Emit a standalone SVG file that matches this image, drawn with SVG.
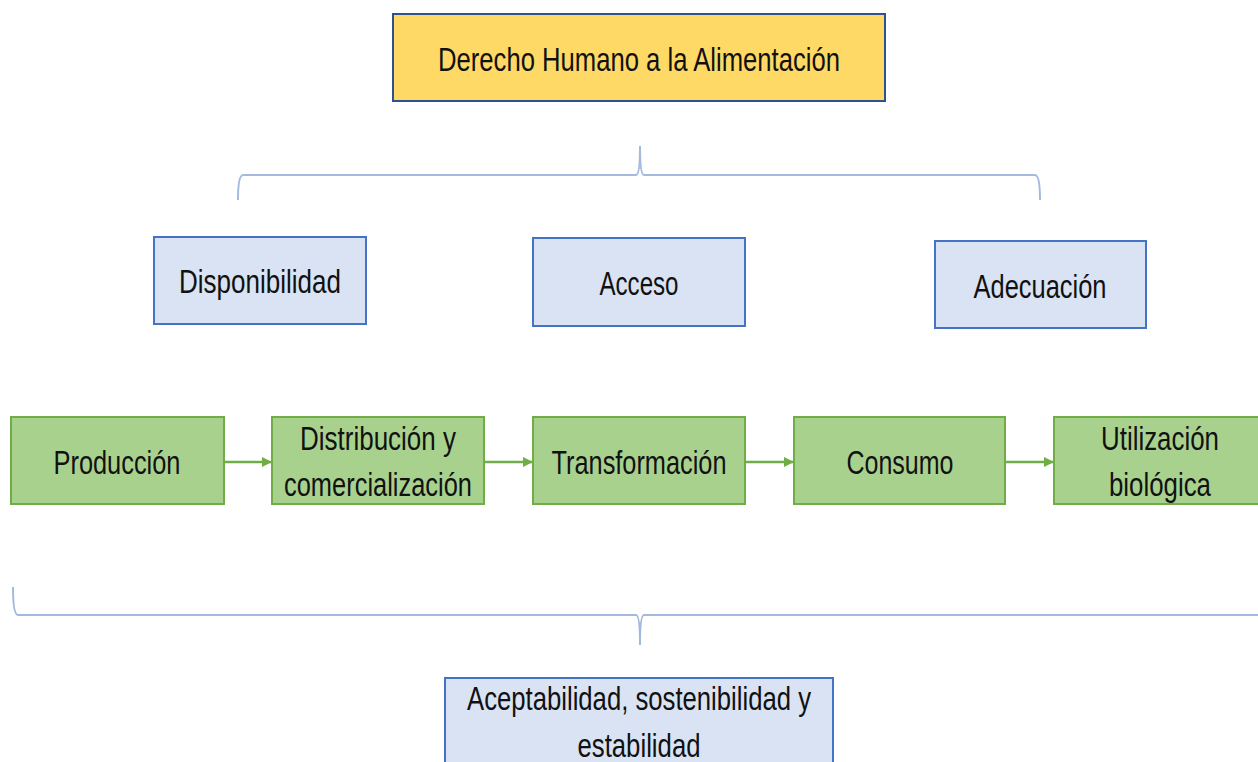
<svg xmlns="http://www.w3.org/2000/svg" width="1258" height="762" viewBox="0 0 1258 762">
<style>
  text { font-family: "Liberation Sans", Arial, sans-serif; font-size: 33px; fill: #111; text-anchor: middle; }
  .yellow { fill: #FFD966; stroke: #2F528F; stroke-width: 2; }
  .blue { fill: #DAE3F3; stroke: #4472C4; stroke-width: 2; }
  .green { fill: #A9D18E; stroke: #70AD47; stroke-width: 2; }
  .brace { fill: none; stroke: #A4B9E0; stroke-width: 2; }
  .arrow { stroke: #70AD47; stroke-width: 2.5; fill: none; marker-end: url(#ah); }
</style>
<defs>
  <marker id="ah" viewBox="0 0 10 10" refX="9" refY="5" markerWidth="4" markerHeight="4" orient="auto" markerUnits="strokeWidth">
    <path d="M0,0 L10,5 L0,10 z" fill="#70AD47"/>
  </marker>
</defs>
<rect width="1258" height="762" fill="#ffffff"/>

<g id="derecho">
  <rect class="yellow" x="393" y="14" width="492" height="87"/>
  <text x="639" y="71" textLength="402" lengthAdjust="spacingAndGlyphs">Derecho Humano a la Alimentación</text>
</g>

<g id="connectors">
  <path class="brace" d="M238,200 Q238,175 243,175 L636,175 Q640,175 640,146 Q640,175 644,175 L1035,175 Q1040,175 1040,200"/>
  <path class="brace" d="M13,587 Q13,615 18,615 L636,615 Q640,615 640,645 Q640,615 644,615 L1258,615"/>
  <line class="arrow" x1="224" y1="462" x2="271" y2="462"/>
  <line class="arrow" x1="484" y1="462" x2="532" y2="462"/>
  <line class="arrow" x1="745" y1="462" x2="793" y2="462"/>
  <line class="arrow" x1="1005" y1="462" x2="1053" y2="462"/>
</g>

<g id="disponibilidad">
  <rect class="blue" x="154" y="237" width="212" height="87"/>
  <text x="260" y="293" textLength="162" lengthAdjust="spacingAndGlyphs">Disponibilidad</text>
</g>
<g id="acceso">
  <rect class="blue" x="533" y="238" width="212" height="88"/>
  <text x="639" y="295" textLength="79" lengthAdjust="spacingAndGlyphs">Acceso</text>
</g>
<g id="adecuacion">
  <rect class="blue" x="935" y="241" width="211" height="87"/>
  <text x="1040" y="298" textLength="133" lengthAdjust="spacingAndGlyphs">Adecuación</text>
</g>

<g id="produccion">
  <rect class="green" x="11" y="417" width="213" height="87"/>
  <text x="117" y="474" textLength="127" lengthAdjust="spacingAndGlyphs">Producción</text>
</g>
<g id="distribucion">
  <rect class="green" x="272" y="417" width="212" height="87"/>
  <text x="378" y="450" textLength="156" lengthAdjust="spacingAndGlyphs">Distribución y</text>
  <text x="378" y="496" textLength="188" lengthAdjust="spacingAndGlyphs">comercialización</text>
</g>
<g id="transformacion">
  <rect class="green" x="533" y="417" width="212" height="87"/>
  <text x="639" y="474" textLength="175" lengthAdjust="spacingAndGlyphs">Transformación</text>
</g>
<g id="consumo">
  <rect class="green" x="794" y="417" width="211" height="87"/>
  <text x="900" y="474" textLength="107" lengthAdjust="spacingAndGlyphs">Consumo</text>
</g>
<g id="utilizacion">
  <rect class="green" x="1054" y="417" width="214" height="87"/>
  <text x="1160" y="450" textLength="118" lengthAdjust="spacingAndGlyphs">Utilización</text>
  <text x="1160" y="496" textLength="102" lengthAdjust="spacingAndGlyphs">biológica</text>
</g>

<g id="aceptabilidad">
  <rect class="blue" x="445" y="678" width="388" height="100"/>
  <text x="639" y="710" textLength="344" lengthAdjust="spacingAndGlyphs">Aceptabilidad, sostenibilidad y</text>
  <text x="639" y="757" textLength="123" lengthAdjust="spacingAndGlyphs">estabilidad</text>
</g>
</svg>
